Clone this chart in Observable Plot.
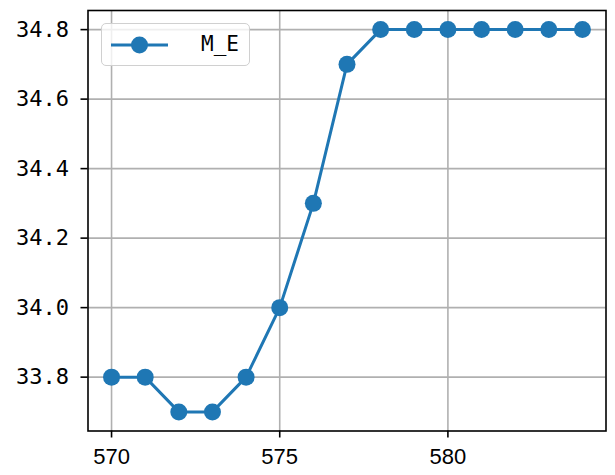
<!DOCTYPE html>
<html>
<head>
<meta charset="utf-8">
<script src="https://cdn.jsdelivr.net/npm/d3@7"></script>
<script src="https://cdn.jsdelivr.net/npm/@observablehq/plot@0.6"></script>
<style>
  html, body { margin: 0; padding: 0; background: #fff; }
  #wrap { position: relative; width: 615px; height: 475px; }
  #legend {
    position: absolute; left: 101px; top: 23px; width: 147px; height: 41px;
    border: 1.5px solid #d0d0d0; border-radius: 5px; background: rgba(255,255,255,0.8);
    box-sizing: content-box;
  }
  #legend svg { position: absolute; left: 8px; top: 9px; }
  #legend span {
    position: absolute; left: 99px; top: 6px; font-family: "DejaVu Sans Mono", "Liberation Mono", monospace;
    font-size: 21px; color: #000; line-height: 28px;
  }
</style>
</head>
<body>
<div id="wrap"></div>
<script>
const xValues = [570, 571, 572, 573, 574, 575, 576, 577, 578, 579, 580, 581, 582, 583, 584];
const yValues = [33.8, 33.8, 33.7, 33.7, 33.8, 34.0, 34.3, 34.7, 34.8, 34.8, 34.8, 34.8, 34.8, 34.8, 34.8];
const xTicks = [570, 575, 580];
const yTicks = [33.8, 34.0, 34.2, 34.4, 34.6, 34.8];
const seriesName = "M_E";
const color = "#1f77b4";

const data = xValues.map((x, i) => ({x, y: yValues[i]}));

const chart = Plot.plot({
  width: 615,
  height: 475,
  marginLeft: 87.5,
  marginRight: 9.5,
  marginTop: 10,
  marginBottom: 44.5,
  x: {domain: [569.3, 584.7]},
  y: {domain: [33.645, 34.855]},
  style: {background: "#fff", overflow: "visible"},
  marks: [
    Plot.gridX(xTicks, {stroke: "#b0b0b0", strokeOpacity: 1, strokeWidth: 1.6}),
    Plot.gridY(yTicks, {stroke: "#b0b0b0", strokeOpacity: 1, strokeWidth: 1.6}),
    Plot.line(data, {x: "x", y: "y", stroke: color, strokeWidth: 3}),
    Plot.dot(data, {x: "x", y: "y", r: 8.5, fill: color, stroke: "none"}),
    Plot.frame({stroke: "#000", strokeWidth: 1.6}),
    Plot.axisX({ticks: xTicks, tickSize: 7, tickPadding: 10, label: null, fontSize: 22,
      fontFamily: "Liberation Sans, Arial, sans-serif", stroke: "#000", strokeWidth: 1.6, fill: "#000"}),
    Plot.axisY({ticks: yTicks, tickSize: 7, tickPadding: 12, label: null, tickFormat: d3.format(".1f"),
      fontSize: 22, fontFamily: "DejaVu Sans Mono, Liberation Mono, monospace", stroke: "#000", strokeWidth: 1.6, fill: "#000"})
  ]
});
const wrap = document.getElementById("wrap");
wrap.appendChild(chart);

const legend = document.createElement("div");
legend.id = "legend";
legend.innerHTML = `<svg width="60" height="24"><line x1="1" y1="12" x2="58" y2="12" stroke="${color}" stroke-width="3"/><circle cx="29.5" cy="12" r="8.5" fill="${color}"/></svg><span></span>`;
legend.querySelector("span").textContent = seriesName;
wrap.appendChild(legend);
</script>
</body>
</html>
